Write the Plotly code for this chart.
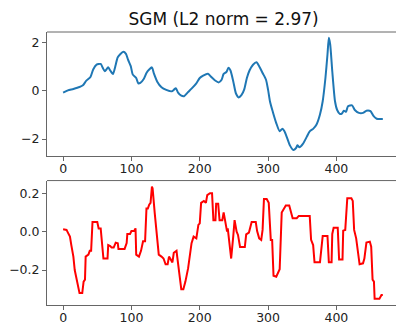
import plotly.graph_objects as go
from plotly.subplots import make_subplots

title_text = "SGM (L2 norm = 2.97)"

top_x = [0,7,15,24,29,34,40,44,49,55,58,61,66,69,73,77,80,88,92,95,99,102,107,110,113,118,122,126,130,133,
         138,144,151,159,162,165,168,173,177,183,188,195,200,205,212,217,222,228,232,235,239,242,245,249,253,257,261,265,269,273,
         278,283,287,292,297,300,303,307,312,317,321,324,328,332,337,341,343,346,351,357,361,366,371,376,380,384,387,389,391,394,
         398,401,405,408,411,414,417,423,427,433,439,444,450,454,459,468]
top_y = [-0.08,0.01,0.07,0.15,0.22,0.41,0.56,0.87,1.07,1.10,0.94,0.80,0.96,0.83,0.69,1.07,1.38,1.60,1.52,1.28,
         1.01,0.66,0.52,0.30,0.32,0.48,0.73,0.87,0.96,0.70,0.36,0.14,0.03,-0.03,0.03,0.10,-0.07,-0.21,-0.23,-0.06,
         0.08,0.30,0.52,0.62,0.70,0.56,0.43,0.34,0.45,0.69,0.77,0.94,0.83,0.39,-0.12,-0.28,-0.19,0.04,0.52,0.84,
         1.07,1.17,1.01,0.73,0.45,0.04,-0.47,-0.88,-1.34,-1.68,-1.57,-1.68,-1.96,-2.26,-2.45,-2.37,-2.26,-2.34,-2.20,-1.89,
         -1.68,-1.58,-1.40,-0.99,-0.44,0.52,1.49,2.18,1.90,0.80,-0.44,-0.79,-0.96,-0.95,-0.83,-0.88,-0.65,-0.61,-0.80,-0.92,
         -0.92,-0.83,-0.85,-1.03,-1.16,-1.17]

bot_x = [0,5,7,10,12,15,17,20,22,24,28,30,32,33,37,39,41,43,50,52,55,58,59,65,66,69,71,74,77,80,
         81,90,93,94,98,100,104,106,107,111,114,117,120,122,124,126,128,130,131,134,138,140,144,147,150,153,155,158,160,162,
         166,167,170,173,176,179,183,188,191,195,198,200,202,206,209,211,215,218,220,223,224,227,229,233,235,238,240,241,244,246,
         249,251,254,256,259,266,268,272,276,282,284,287,290,292,294,298,301,304,306,308,312,315,317,320,322,326,331,333,336,342,
         345,361,363,366,368,376,380,387,389,393,394,396,402,404,409,410,413,416,422,424,426,429,432,434,439,441,444,449,451,453,
         455,456,463,466,468]
bot_y = [0.012,0.009,-0.005,-0.026,-0.07,-0.13,-0.20,-0.26,-0.29,-0.32,-0.32,-0.26,-0.25,-0.13,-0.12,-0.10,-0.10,0.05,0.05,0.017,
         0.017,-0.08,-0.14,-0.14,-0.07,-0.075,-0.083,-0.083,-0.057,-0.06,-0.09,-0.09,-0.06,-0.012,-0.012,0.003,0.003,0.017,-0.12,-0.13,
         -0.10,-0.05,-0.05,0.12,0.12,0.14,0.15,0.235,0.225,0.10,-0.035,-0.12,-0.13,-0.14,-0.17,-0.17,-0.13,-0.15,-0.16,-0.11,
         -0.10,-0.13,-0.23,-0.30,-0.30,-0.26,-0.19,-0.06,-0.026,-0.035,0.035,0.043,0.15,0.16,0.15,0.19,0.20,0.20,0.06,0.06,
         0.145,0.145,0.06,0.06,0.10,0.043,0.0,0.017,-0.08,-0.14,-0.026,0.06,0.0,-0.017,-0.08,-0.08,-0.014,-0.005,0.05,0.05,
         0.003,-0.035,-0.043,0.009,0.17,0.17,0.15,-0.043,-0.043,-0.23,-0.235,-0.205,-0.196,0.10,0.113,0.136,0.136,0.113,0.07,0.07,
         0.082,0.082,-0.043,-0.07,-0.16,-0.16,-0.023,-0.023,-0.16,-0.16,-0.012,0.02,0.02,-0.145,-0.145,0.005,0.009,0.174,0.174,0.16,
         0.009,-0.035,-0.12,-0.17,-0.165,-0.14,-0.057,-0.052,-0.078,-0.25,-0.26,-0.35,-0.35,-0.33,-0.33]

x_ticks = [0, 100, 200, 300, 400]
top_ticks = [-2, 0, 2]
top_ticktext = ["\u22122", "0", "2"]
bot_ticks = [-0.2, 0.0, 0.2]
bot_ticktext = ["\u22120.2", "0.0", "0.2"]

W, H = 396, 326
L, R, T, B = 47, 0, 32, 21

fig = make_subplots(rows=2, cols=1, shared_xaxes=False)
fig.add_trace(go.Scatter(x=top_x, y=top_y, mode="lines", hoverinfo="skip",
                         line=dict(color="#1f77b4", width=2, shape="spline", smoothing=0.6)), row=1, col=1)
fig.add_trace(go.Scatter(x=bot_x, y=bot_y, mode="lines", hoverinfo="skip",
                         line=dict(color="red", width=2)), row=2, col=1)

spine = "#666666"
axcommon = dict(showgrid=False, zeroline=False, showline=True, linecolor=spine, linewidth=1,
                ticks="outside", ticklen=4, tickcolor=spine, tickwidth=1, automargin=False,
                tickfont=dict(family="DejaVu Sans", size=12.5, color="#222222"))

fig.update_xaxes(range=[-23.6, 487.3], tickvals=x_ticks, ticklabelstandoff=-3, **axcommon)
fig.update_yaxes(**axcommon)
fig.update_yaxes(range=[-2.68, 2.42], tickvals=top_ticks, ticktext=top_ticktext, domain=[0.5475, 1.0], row=1, col=1)
fig.update_yaxes(range=[-0.382, 0.266], tickvals=bot_ticks, ticktext=bot_ticktext, domain=[0.0, 0.4558], row=2, col=1)

shapes = []
for xr, yr in (("x domain", "y domain"), ("x2 domain", "y2 domain")):
    shapes.append(dict(type="line", xref=xr, yref=yr, x0=0, x1=1, y0=1, y1=1,
                       line=dict(color=spine, width=1)))

fig.update_layout(
    width=W, height=H, autosize=False,
    margin=dict(l=L, r=R, t=T, b=B),
    paper_bgcolor="white", plot_bgcolor="white",
    showlegend=False, shapes=shapes, hovermode=False,
    title=dict(text=title_text, x=0.506, xref="paper", xanchor="center",
               y=1 - 19.5 / H, yref="container", yanchor="middle",
               font=dict(family="DejaVu Sans", size=17, color="#111111")),
)

fig.write_html("out.html", config={"displayModeBar": False, "staticPlot": True},
               post_script="document.body.style.margin='0';document.body.style.overflow='hidden';")
